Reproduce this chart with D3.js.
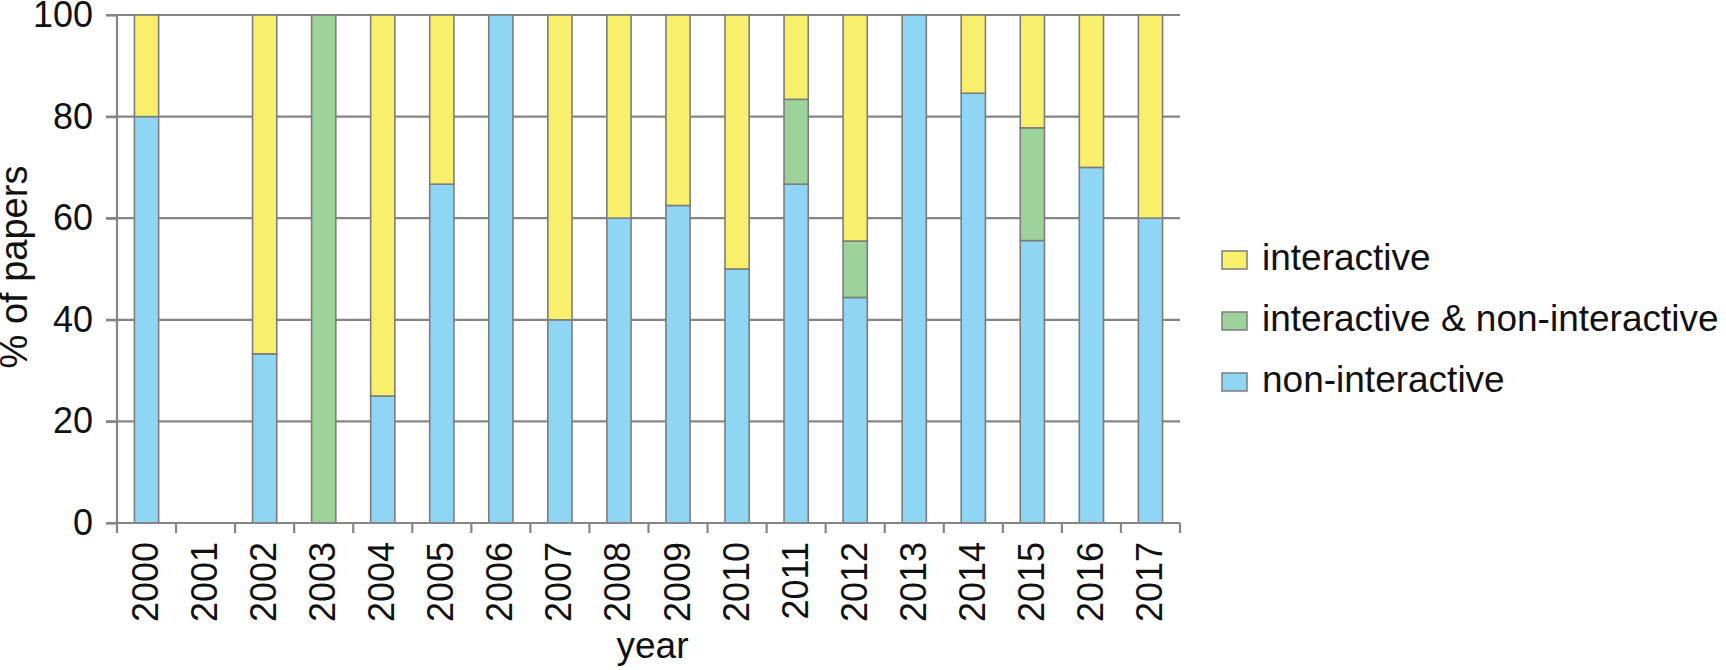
<!DOCTYPE html>
<html><head><meta charset="utf-8">
<script src="https://cdn.jsdelivr.net/npm/d3@7"></script>
<style>body{margin:0;background:#fff}svg{display:block}text{font-family:"Liberation Sans",Arial,sans-serif;fill:#111}</style>
</head><body>
<svg id="c" width="1726" height="670"></svg>
<script>
const years = ["2000","2001","2002","2003","2004","2005","2006","2007","2008","2009","2010","2011","2012","2013","2014","2015","2016","2017"];
const nonInteractive = [80,0,33.3,0,25,66.7,100,40,60,62.5,50,66.7,44.4,100,84.6,55.6,70,60];
const both = [0,0,0,100,0,0,0,0,0,0,0,16.7,11.1,0,0,22.2,0,0];
const interactive = [20,0,66.7,0,75,33.3,0,60,40,37.5,50,16.6,44.5,0,15.4,22.2,30,40];
const yTicks = [0,20,40,60,80,100];
const seriesNames = ["non-interactive","interactive & non-interactive","interactive"];
const seriesColors = ["#8fd5f4","#9dd39b","#f8ef6b"];

const svg = d3.select("#c");
const L=117,R=1180,T=15,B=523;
const x = d3.scaleBand().domain(years).range([L,R]).paddingInner(0.59).paddingOuter(0.295);
const xb = d3.scaleBand().domain(years).range([L,R]);
const y = d3.scaleLinear().domain([0,100]).range([B,T]);
const grid="#858585";

// gridlines
svg.append("g").selectAll("line").data(yTicks.filter(d=>d>0)).join("line")
  .attr("x1",L-11).attr("x2",R).attr("y1",d=>y(d)).attr("y2",d=>y(d))
  .attr("stroke",grid).attr("stroke-width",2.2);

// bars
const rows = years.map((yr,i)=>({year:yr,"non-interactive":nonInteractive[i],"interactive & non-interactive":both[i],"interactive":interactive[i]}));
const stack = d3.stack().keys(seriesNames)(rows);
svg.append("g").selectAll("g").data(stack).join("g")
  .attr("fill",(d,i)=>seriesColors[i])
  .selectAll("rect").data(d=>d.filter(p=>p[1]-p[0]>0)).join("rect")
  .attr("x",d=>x(d.data.year)).attr("width",x.bandwidth())
  .attr("y",d=>y(d[1])).attr("height",d=>y(d[0])-y(d[1]))
  .attr("stroke","#7d7d7d").attr("stroke-width",1.6);

// y axis
const ya = svg.append("g").attr("transform",`translate(${L},0)`)
  .call(d3.axisLeft(y).tickValues(yTicks).tickSize(11).tickPadding(13));
ya.select(".domain").attr("stroke",grid).attr("stroke-width",2.2).attr("d",`M0,${T}V${B}`);
ya.selectAll(".tick line").attr("stroke",grid).attr("stroke-width",2.2);
ya.selectAll(".tick text").attr("font-size",36).attr("fill","#111").attr("font-family","Liberation Sans, Arial, sans-serif");

// x axis
const xa = svg.append("g").attr("transform",`translate(0,${B})`)
  .call(d3.axisBottom(xb).tickSize(0).tickPadding(0));
xa.select(".domain").attr("stroke",grid).attr("stroke-width",2.2).attr("d",`M${L-11},0H${R}`);
xa.selectAll(".tick text").attr("font-size",36).attr("fill","#111")
  .attr("font-family","Liberation Sans, Arial, sans-serif")
  .attr("text-anchor","end").attr("dy",null)
  .attr("dominant-baseline","central")
  .attr("transform","translate(-1,19) rotate(-90)").attr("y",0).attr("x",0);
const bounds = years.map(yr=>xb(yr)).concat([R]);
xa.append("g").selectAll("line").data(bounds).join("line")
  .attr("x1",d=>d).attr("x2",d=>d).attr("y1",0).attr("y2",10)
  .attr("stroke",grid).attr("stroke-width",2.2);

// axis titles
svg.append("text").attr("x",(L+R)/2+4).attr("y",658).attr("text-anchor","middle").attr("font-size",37).text("year");
svg.append("text").attr("transform",`translate(27,${(T+B)/2-2}) rotate(-90)`).attr("text-anchor","middle").attr("font-size",38).text("% of papers");

// legend
const legendOrder = [2,1,0];
const lg = svg.append("g");
legendOrder.forEach((si,k)=>{
  const by = 270 + k*61;
  lg.append("rect").attr("x",1222).attr("y",by-19).attr("width",25).attr("height",18)
    .attr("fill",seriesColors[si]).attr("stroke","#7d7d7d").attr("stroke-width",1.5);
  lg.append("text").attr("x",1262).attr("y",by).attr("font-size",37).text(seriesNames[si]);
});
</script>
</body></html>
